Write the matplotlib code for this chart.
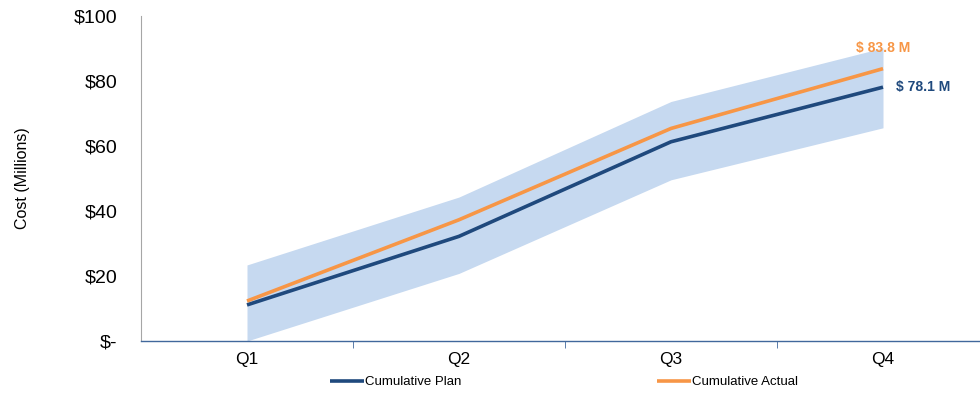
#!/usr/bin/env python3
## Cumulative plan vs actual cost by quarter, with tolerance band

import matplotlib
matplotlib.use("Agg")
import matplotlib.pyplot as plt
from matplotlib.ticker import FuncFormatter

plt.rcParams["font.family"] = ["Liberation Sans", "DejaVu Sans"]

quarters = ["Q1", "Q2", "Q3", "Q4"]
plan = [11.1, 32.2, 61.3, 78.1]
actual = [12.3, 37.3, 65.4, 83.8]
band_low = [0.0, 20.8, 49.6, 65.6]
band_high = [23.4, 44.3, 73.7, 90.2]

plan_col = "#1f497d"
actual_col = "#f79646"
band_col = "#c6d9f0"

fig = plt.figure(figsize=(9.8, 3.97), dpi=100)
ax = fig.add_axes([141/980, 56/397, 848/980, 325/397])

x = list(range(len(quarters)))
ax.fill_between(x, band_low, band_high, color=band_col, lw=0, zorder=1)
ax.plot(x, plan, color=plan_col, lw=2.6, solid_capstyle="butt", zorder=3, label="Cumulative Plan")
ax.plot(x, actual, color=actual_col, lw=2.6, solid_capstyle="butt", zorder=3, label="Cumulative Actual")

ax.annotate(f"$ {actual[-1]:.1f} M", (x[-1], actual[-1]), xytext=(0, 10), textcoords="offset points",
            ha="center", va="bottom", color=actual_col, fontsize=10, fontweight="bold")
ax.annotate(f"$ {plan[-1]:.1f} M", (x[-1], plan[-1]), xytext=(9, 0), textcoords="offset points",
            ha="left", va="center", color=plan_col, fontsize=10, fontweight="bold")

ax.set_xlim(-0.5, 3.5)
ax.set_ylim(0, 100)
ax.set_yticks(range(0, 101, 20))
ax.yaxis.set_major_formatter(FuncFormatter(lambda v, p: "$-" if v == 0 else f"${v:.0f}"))
ax.tick_params(axis="y", length=0, labelsize=14, pad=17)

ax.set_xticks(x)
ax.set_xticklabels(quarters)
ax.set_xticks([0.5, 1.5, 2.5, 3.5], minor=True)
ax.tick_params(axis="x", which="major", length=0, labelsize=12.5, pad=8)
ax.tick_params(axis="x", which="minor", length=5, color="#41689c", direction="out")

ax.spines["top"].set_visible(False)
ax.spines["right"].set_visible(False)
ax.spines["left"].set_color("#a6a6a6")
ax.spines["bottom"].set_color("#41689c")
ax.spines["bottom"].set_linewidth(1.0)

ax.set_ylabel("Cost (Millions)", fontsize=11.5)
ax.yaxis.set_label_coords(-0.131, 0.5)

fig.legend(loc="center", bbox_to_anchor=(564/980, 1 - 382/397), ncol=2, frameon=False,
           prop={"size": 9.5}, handlelength=2.6, handletextpad=0.1,
           columnspacing=14.8)

fig.savefig("out.png", dpi=100)
